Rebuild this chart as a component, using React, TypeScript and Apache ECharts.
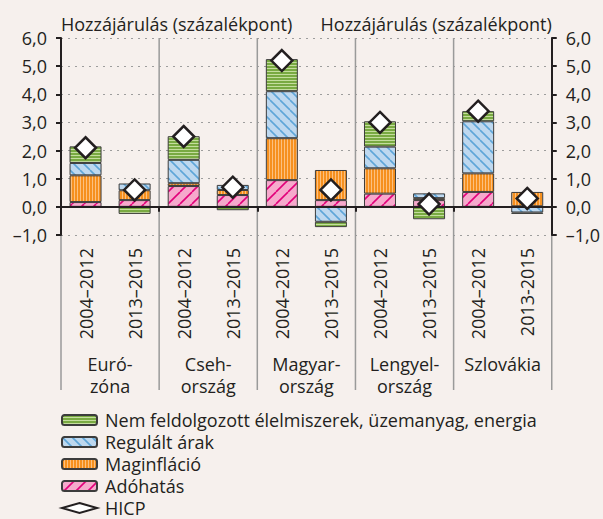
import React, { useEffect, useRef } from 'react';
import * as echarts from 'echarts';

const periods = ['2004–2012', '2013–2015', '2004–2012', '2013–2015', '2004–2012', '2013–2015', '2004–2012', '2013–2015', '2004–2012', '2013-2015'];
const countries = ['Euró-\nzóna', 'Cseh-\nország', 'Magyar-\nország', 'Lengyel-\nország', 'Szlovákia'];
const adohatas = [0.17, 0.24, 0.74, 0.42, 0.95, 0.24, 0.47, 0.24, 0.53, 0.02];
const maginflacio = [0.95, 0.35, 0.10, 0.18, 1.49, 1.07, 0.90, 0.07, 0.66, 0.51];
const regulalt = [0.44, 0.24, 0.83, 0.18, 1.67, -0.53, 0.77, 0.17, 1.85, -0.20];
const nemFeldolgozott = [0.59, -0.25, 0.84, -0.12, 1.14, -0.19, 0.90, -0.44, 0.36, -0.05];
const hicp = [2.1, 0.6, 2.5, 0.7, 5.2, 0.6, 3.0, 0.1, 3.4, 0.3];
const yTicks = [-1, 0, 1, 2, 3, 4, 5, 6];
const yTickLabels = ['–1,0', '0,0', '1,0', '2,0', '3,0', '4,0', '5,0', '6,0'];
const axisTitle = 'Hozzájárulás (százalékpont)';
const seriesNames = ['Nem feldolgozott élelmiszerek, üzemanyag, energia', 'Regulált árak', 'Maginfláció', 'Adóhatás', 'HICP'];

const FONT = 'Open Sans';
const FS = 18;
const TXT = '#231f20';
const BG = '#f6f0ed';

function tile(w: number, h: number, draw: (ctx: CanvasRenderingContext2D) => void) {
  const c = document.createElement('canvas');
  c.width = w;
  c.height = h;
  const ctx = c.getContext('2d')!;
  draw(ctx);
  return { image: c.toDataURL(), repeat: 'repeat', imageWidth: w, imageHeight: h } as any;
}

export default function App() {
  const ref = useRef<HTMLDivElement>(null);
  useEffect(() => {
    const chart = echarts.init(ref.current!, null, { renderer: 'svg' });

    const green = tile(3, 3, (ctx) => {
      ctx.fillStyle = '#79aa42';
      ctx.fillRect(0, 0, 3, 3);
      ctx.fillStyle = '#c4dd9e';
      ctx.fillRect(0, 2, 3, 1);
    });
    const orange = tile(3, 3, (ctx) => {
      ctx.fillStyle = '#f6901e';
      ctx.fillRect(0, 0, 3, 3);
      ctx.fillStyle = '#fcc07f';
      ctx.fillRect(2, 0, 1, 3);
    });
    const blue = tile(10, 10, (ctx) => {
      ctx.fillStyle = '#bed8ef';
      ctx.fillRect(0, 0, 10, 10);
      ctx.strokeStyle = '#5ea5d8';
      ctx.lineWidth = 1.6;
      for (const x0 of [-10, 0, 10]) {
        ctx.beginPath();
        ctx.moveTo(x0, 0);
        ctx.lineTo(x0 + 10, 10);
        ctx.stroke();
      }
    });
    const pink = tile(12, 12, (ctx) => {
      ctx.fillStyle = '#f6a9cc';
      ctx.fillRect(0, 0, 12, 12);
      ctx.strokeStyle = '#e2007a';
      ctx.lineWidth = 1.6;
      for (const x0 of [-12, 0, 12]) {
        ctx.beginPath();
        ctx.moveTo(x0, 12);
        ctx.lineTo(x0 + 12, 0);
        ctx.stroke();
      }
    });

    const border = { borderColor: '#3c3c3c', borderWidth: 1 };
    const barBase = {
      type: 'bar',
      stack: 'total',
      barWidth: 32,
      xAxisIndex: 0,
      yAxisIndex: 0,
      z: 2,
    };
    const labelFmt = (v: number) => {
      const i = yTicks.indexOf(Math.round(v));
      return i >= 0 ? yTickLabels[i] : '';
    };
    const yBase = (pos: 'left' | 'right') => ({
      type: 'value',
      position: pos,
      min: -1,
      max: 6,
      interval: 1,
      axisLine: { show: true, onZero: false, lineStyle: { color: TXT, width: 2 } },
      axisTick: { show: true, length: 5, lineStyle: { color: TXT, width: 2 } },
      axisLabel: { formatter: labelFmt, fontSize: FS, color: TXT, fontFamily: FONT, margin: 14 },
      splitLine: pos === 'left' ? { show: true, lineStyle: { color: '#9d9d9d', type: [2, 5], width: 1 } } : { show: false },
      name: axisTitle,
      nameLocation: 'end',
      nameGap: 14,
      nameTextStyle: {
        align: pos === 'left' ? 'left' : 'right',
        verticalAlign: 'middle',
        fontSize: FS,
        color: TXT,
        fontFamily: FONT,
      },
    });

    chart.setOption({
      animation: false,
      backgroundColor: BG,
      textStyle: { fontFamily: FONT },
      grid: { left: 61, right: 51, top: 38, bottom: 284, containLabel: false },
      legend: {
        orient: 'vertical',
        left: 61,
        top: 411,
        height: 130,
        padding: 0,
        itemWidth: 35,
        itemHeight: 10,
        itemGap: 4,
        data: seriesNames,
        textStyle: { fontSize: FS, color: TXT, fontFamily: FONT, lineHeight: 18, padding: [0, 0, 0, 3] },
      },
      xAxis: [
        {
          type: 'category',
          data: periods,
          position: 'bottom',
          axisLine: { show: true, onZero: true, lineStyle: { color: TXT, width: 2 } },
          axisTick: { show: true, length: 5, lineStyle: { color: TXT, width: 2 } },
          axisLabel: { show: false },
          splitLine: { show: false },
          z: 3,
        },
        {
          type: 'category',
          data: periods,
          position: 'bottom',
          axisLine: { show: false, onZero: false },
          axisTick: { show: false },
          axisLabel: { show: true, rotate: 90, margin: 13, fontSize: FS, color: TXT, fontFamily: FONT, interval: 0 },
          splitLine: { show: false },
        },
        {
          type: 'category',
          data: countries,
          position: 'bottom',
          axisLine: { show: false, onZero: false },
          axisTick: { show: false },
          axisLabel: { show: true, margin: 118, fontSize: FS, lineHeight: 22, color: TXT, fontFamily: FONT, interval: 0, align: 'center' },
          splitLine: { show: false },
        },
      ],
      yAxis: [yBase('left'), yBase('right')],
      series: [
        { ...barBase, name: seriesNames[3], data: adohatas, itemStyle: { color: pink, ...border } },
        { ...barBase, name: seriesNames[2], data: maginflacio, itemStyle: { color: orange, ...border } },
        { ...barBase, name: seriesNames[1], data: regulalt, itemStyle: { color: blue, ...border } },
        { ...barBase, name: seriesNames[0], data: nemFeldolgozott, itemStyle: { color: green, ...border } },
        {
          type: 'scatter',
          name: seriesNames[4],
          xAxisIndex: 0,
          yAxisIndex: 0,
          data: hicp,
          symbol: 'diamond',
          symbolSize: 21,
          z: 5,
          itemStyle: { color: '#ffffff', borderColor: TXT, borderWidth: 2.5, opacity: 1 },
        },
      ],
    });

    const px0 = chart.convertToPixel({ xAxisIndex: 0 }, 0) as number;
    const px1 = chart.convertToPixel({ xAxisIndex: 0 }, 1) as number;
    const step = px1 - px0;
    const yTop = chart.convertToPixel({ yAxisIndex: 0 }, 6) as number;
    const yBot = chart.convertToPixel({ yAxisIndex: 0 }, -1) as number;
    const lineEnd = 390;
    const lines: any[] = [];
    for (let g = 0; g <= countries.length; g++) {
      const bx = px0 - step / 2 + g * 2 * step;
      const edge = g === 0 || g === countries.length;
      lines.push({
        type: 'line',
        shape: { x1: bx, y1: edge ? yBot : yTop, x2: bx, y2: lineEnd },
        style: { stroke: '#9a9a9a', lineWidth: 1.5 },
        z: 0,
        silent: true,
      });
    }
    chart.setOption({ graphic: lines });

    return () => chart.dispose();
  }, []);
  return <div ref={ref} style={{ position: 'fixed', left: 0, top: 0, width: 603, height: 519 }} />;
}
